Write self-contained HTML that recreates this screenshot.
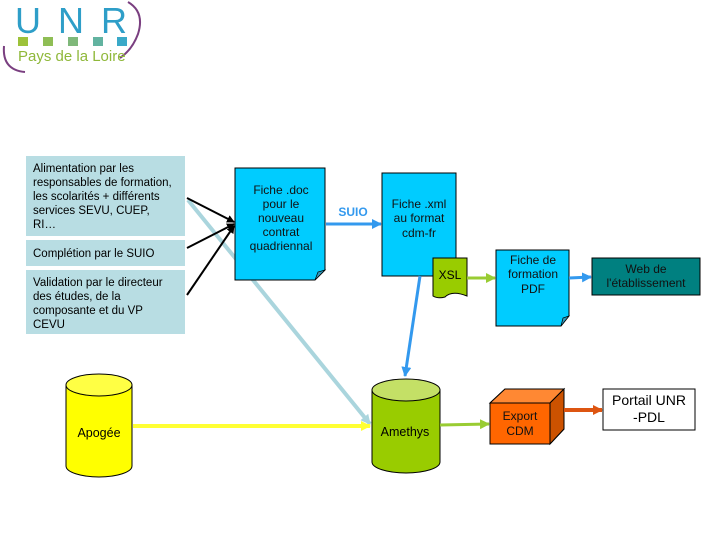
<!DOCTYPE html>
<html><head><meta charset="utf-8"><style>
html,body{margin:0;padding:0;background:#fff;}
svg{display:block;font-family:"Liberation Sans",Arial,sans-serif;}
</style></head><body>
<svg width="720" height="540" viewBox="0 0 720 540" xmlns="http://www.w3.org/2000/svg">
<defs>
<marker id="ak" markerWidth="8" markerHeight="8" refX="7" refY="4" orient="auto" markerUnits="userSpaceOnUse"><path d="M0,0 L8,4 L0,8z" fill="#000"/></marker>
<marker id="ab" markerWidth="10" markerHeight="10" refX="9" refY="5" orient="auto" markerUnits="userSpaceOnUse"><path d="M0,0 L10,5 L0,10z" fill="#3399ee"/></marker>
<marker id="ag" markerWidth="10" markerHeight="10" refX="9" refY="5" orient="auto" markerUnits="userSpaceOnUse"><path d="M0,0 L10,5 L0,10z" fill="#99cc33"/></marker>
<marker id="ay" markerWidth="10" markerHeight="10" refX="9" refY="5" orient="auto" markerUnits="userSpaceOnUse"><path d="M0,0 L10,5 L0,10z" fill="#ffff33"/></marker>
<marker id="ao" markerWidth="10" markerHeight="10" refX="9" refY="5" orient="auto" markerUnits="userSpaceOnUse"><path d="M0,0 L10,5 L0,10z" fill="#dd5511"/></marker>
<marker id="al" markerWidth="10" markerHeight="10" refX="9" refY="5" orient="auto" markerUnits="userSpaceOnUse"><path d="M0,0 L10,5 L0,10z" fill="#aad5dd"/></marker>
</defs>
<!-- logo -->
<path d="M128,2 Q145,12 138,34 Q132,50 120,58" fill="none" stroke="#7a3f80" stroke-width="2"/>
<path d="M4,46 Q2,70 25,72" fill="none" stroke="#7a3f80" stroke-width="2"/>
<text x="15" y="33" font-size="36" fill="#2e9ec8" textLength="112" lengthAdjust="spacing">U N R</text>
<rect x="18" y="37" width="10" height="9" fill="#9dc23a"/><rect x="43" y="37" width="10" height="9" fill="#8fbe55"/><rect x="68" y="37" width="10" height="9" fill="#7fb87a"/><rect x="93" y="37" width="10" height="9" fill="#62b3a0"/><rect x="117" y="37" width="10" height="9" fill="#3aa9c8"/>
<text x="18" y="61" font-size="15" fill="#8fb83a">Pays de la Loire</text>
<!-- left boxes -->
<rect x="26" y="156" width="159" height="80" fill="#b8dde3"/>
<text font-size="11.5" fill="#000"><tspan x="33" y="172">Alimentation par les</tspan><tspan x="33" y="186">responsables de formation,</tspan><tspan x="33" y="200">les scolarités + différents</tspan><tspan x="33" y="214">services SEVU, CUEP,</tspan><tspan x="33" y="228">RI…</tspan></text>
<rect x="26" y="240" width="159" height="26" fill="#b8dde3"/>
<text x="33" y="257" font-size="11.5">Complétion par le SUIO</text>
<rect x="26" y="270" width="159" height="64" fill="#b8dde3"/>
<text font-size="11.5"><tspan x="33" y="286">Validation par le directeur</tspan><tspan x="33" y="300">des études, de la</tspan><tspan x="33" y="314">composante et du VP</tspan><tspan x="33" y="328">CEVU</tspan></text>
<line x1="188" y1="200" x2="370" y2="424" stroke="#aad5dd" stroke-width="4" marker-end="url(#al)"/>
<line x1="187" y1="198" x2="234" y2="222" stroke="#000" stroke-width="2" marker-end="url(#ak)"/>
<line x1="187" y1="248" x2="234" y2="224" stroke="#000" stroke-width="2" marker-end="url(#ak)"/>
<line x1="187" y1="295" x2="234" y2="226" stroke="#000" stroke-width="2" marker-end="url(#ak)"/>
<path d="M235,168 H325 V270 L315,280 H235 Z" fill="#00ccff" stroke="#000" stroke-width="1"/>
<path d="M315,280 L318,272 L325,270 Z" fill="#3399bb" stroke="#000" stroke-width="0.7"/>
<text font-size="12" text-anchor="middle" fill="#111"><tspan x="281" y="194">Fiche .doc</tspan><tspan x="281" y="208">pour le</tspan><tspan x="281" y="222">nouveau</tspan><tspan x="281" y="236">contrat</tspan><tspan x="281" y="250">quadriennal</tspan></text>
<line x1="326" y1="224" x2="381" y2="224" stroke="#3399ee" stroke-width="3" marker-end="url(#ab)"/>
<text x="353" y="216" font-size="12" font-weight="bold" fill="#3399ee" text-anchor="middle">SUIO</text>
<rect x="382" y="173" width="74" height="103" fill="#00ccff" stroke="#000" stroke-width="1"/>
<text font-size="12" text-anchor="middle" fill="#111"><tspan x="419" y="208">Fiche .xml</tspan><tspan x="419" y="222">au format</tspan><tspan x="419" y="237">cdm-fr</tspan></text>
<line x1="420" y1="276" x2="405" y2="376" stroke="#3399ee" stroke-width="3" marker-end="url(#ab)"/>
<path d="M433,258 H467 V296 Q452,290 445,297 Q438,299 433,296 Z" fill="#99cc00" stroke="#000" stroke-width="1"/>
<text x="450" y="279" font-size="12" text-anchor="middle">XSL</text>
<line x1="467" y1="278" x2="495" y2="278" stroke="#99cc33" stroke-width="3" marker-end="url(#ag)"/>
<path d="M496,250 H569 V316 L561,326 H496 Z" fill="#00ccff" stroke="#000" stroke-width="1"/>
<path d="M561,326 L563,318 L569,316 Z" fill="#3399bb" stroke="#000" stroke-width="0.7"/>
<text font-size="12" text-anchor="middle" fill="#111"><tspan x="533" y="264">Fiche de</tspan><tspan x="533" y="278">formation</tspan><tspan x="533" y="293">PDF</tspan></text>
<line x1="569" y1="278" x2="591" y2="277" stroke="#3399ee" stroke-width="3" marker-end="url(#ab)"/>
<rect x="592" y="258" width="108" height="37" fill="#008080" stroke="#000" stroke-width="1"/>
<text font-size="12" text-anchor="middle" fill="#111"><tspan x="646" y="273">Web de</tspan><tspan x="646" y="287">l'établissement</tspan></text>
<path d="M66,385 V466 A33,11 0 0 0 132,466 V385" fill="#ffff00" stroke="#000" stroke-width="1"/>
<ellipse cx="99" cy="385" rx="33" ry="11" fill="#ffff44" stroke="#000" stroke-width="1"/>
<text x="99" y="437" font-size="12.5" text-anchor="middle">Apogée</text>
<line x1="133" y1="426" x2="370" y2="426" stroke="#ffff33" stroke-width="4" marker-end="url(#ay)"/>
<path d="M372,390 V462 A34,11 0 0 0 440,462 V390" fill="#99cc00" stroke="#000" stroke-width="1"/>
<ellipse cx="406" cy="390" rx="34" ry="11" fill="#c4e066" stroke="#000" stroke-width="1"/>
<text x="405" y="436" font-size="12.5" text-anchor="middle">Amethys</text>
<line x1="440" y1="425" x2="489" y2="424" stroke="#99cc33" stroke-width="3" marker-end="url(#ag)"/>
<path d="M490,403 L505,389 H564 V429 L550,444 H490 Z" fill="#ff6600" stroke="#000" stroke-width="1"/>
<path d="M490,403 L505,389 H564 L550,403 Z" fill="#ff8833" stroke="#000" stroke-width="1"/>
<path d="M550,403 L564,389 V429 L550,444 Z" fill="#cc5200" stroke="#000" stroke-width="1"/>
<text font-size="12" text-anchor="middle" fill="#111"><tspan x="520" y="420">Export</tspan><tspan x="520" y="435">CDM</tspan></text>
<line x1="564" y1="410" x2="602" y2="410" stroke="#dd5511" stroke-width="4" marker-end="url(#ao)"/>
<rect x="603" y="389" width="92" height="41" fill="#fff" stroke="#000" stroke-width="1"/>
<text font-size="14" text-anchor="middle"><tspan x="649" y="405">Portail UNR</tspan><tspan x="649" y="422">-PDL</tspan></text>
</svg>
</body></html>
